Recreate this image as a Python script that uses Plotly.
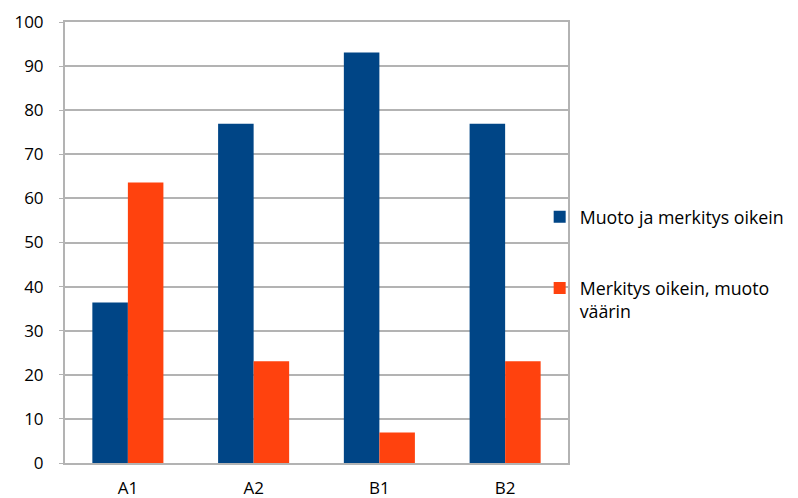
import plotly.graph_objects as go

categories = ["A1", "A2", "B1", "B2"]
series1_name = "Muoto ja merkitys oikein"
series1 = [36.4, 76.9, 93.1, 76.9]
series2_name = "Merkitys oikein, muoto<br>väärin"
series2 = [63.6, 23.1, 6.9, 23.1]
y_ticks = [0, 10, 20, 30, 40, 50, 60, 70, 80, 90, 100]

font_family = "Open Sans, Liberation Sans, sans-serif"
grid = "#b3b3b3"

fig = go.Figure()
fig.add_trace(go.Bar(x=categories, y=series1, name=series1_name,
                     marker=dict(color="#004586", line=dict(width=0)),
                     legendgroup="g1"))
fig.add_trace(go.Bar(x=categories, y=series2, name=series2_name,
                     marker=dict(color="#ff420e", line=dict(width=0)),
                     legendgroup="g2"))

# page body has an 8px default margin, so the figure is 8px smaller
fig.update_layout(
    width=790, height=490,
    margin=dict(l=57, r=230, t=14, b=35, autoexpand=False),
    paper_bgcolor="white", plot_bgcolor="white",
    barmode="group", bargap=0.435, bargroupgap=0,
    font=dict(family=font_family, size=17, color="#000000"),
    legend=dict(xref="container", yref="container",
                x=0.673, xanchor="left", y=0.477, yanchor="middle",
                font=dict(size=17.8), tracegroupgap=45, valign="top",
                itemwidth=30, bgcolor="rgba(0,0,0,0)", traceorder="grouped"),
    showlegend=True,
)
fig.update_xaxes(showline=True, linecolor=grid, linewidth=2, mirror=True,
                 showgrid=False, ticks="outside", ticklen=0, automargin=False,
                 ticklabelstandoff=9, tickfont=dict(size=17))
fig.update_yaxes(range=[0, 100], tickvals=y_ticks, showline=True, linecolor=grid,
                 linewidth=2, mirror=True, showgrid=True, gridcolor=grid, gridwidth=1.5,
                 ticks="outside", ticklen=4, tickcolor=grid, ticklabelstandoff=12,
                 automargin=False, tickfont=dict(size=17), zeroline=False)

fig.write_html("out.html")
